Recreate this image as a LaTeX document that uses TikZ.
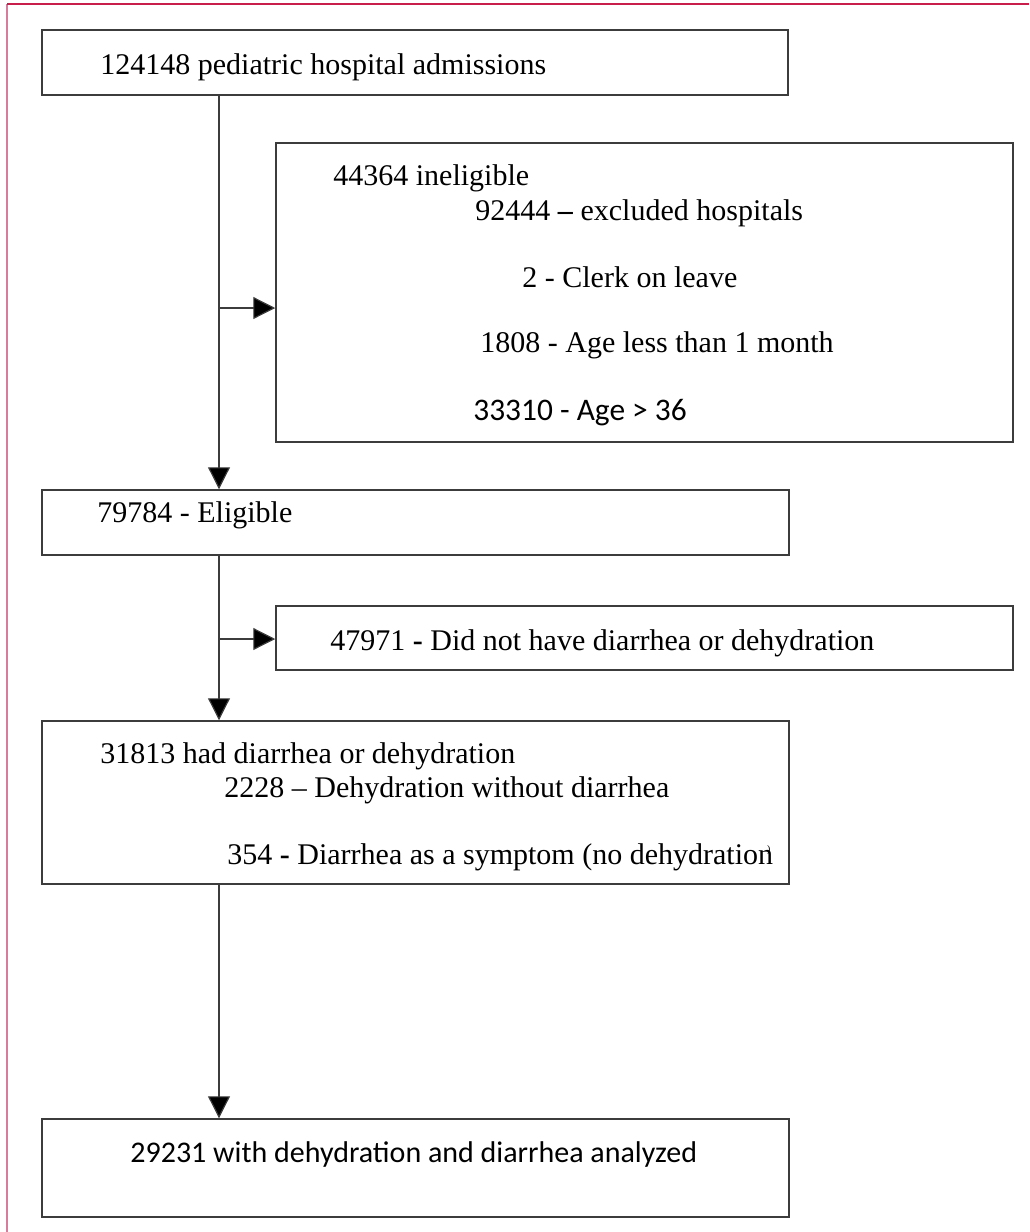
\documentclass[tikz,border=0pt]{standalone}
\usepackage{fontspec}
\setmainfont{Liberation Serif}
\newfontfamily\calibri{Carlito}
\usetikzlibrary{arrows.meta}
\definecolor{framered}{RGB}{200,30,75}
\definecolor{framepink}{RGB}{215,125,155}
\definecolor{boxgray}{RGB}{60,60,60}

\begin{document}
\begin{tikzpicture}[x=0.5pt,y=-0.5pt]
    \useasboundingbox (0,0) rectangle (1029,1232);
    \draw[framepink, line width=0.7pt] (7,1232) -- (7,4);
    \draw[framered, line width=0.7pt] (7,4) -- (1029,4);
    \begin{scope}[every node/.style={rectangle,draw=boxgray,line width=0.75pt,inner sep=0pt}]
        \node[minimum width=373pt, minimum height=32.5pt] (adm) at (415,62.5) {};
        \node[minimum width=368.5pt, minimum height=149.5pt] (inel) at (644.5,292.5) {};
        \node[minimum width=373.5pt, minimum height=32.5pt] (elig) at (415.5,522.5) {};
        \node[minimum width=368.5pt, minimum height=32pt] (nodia) at (644.5,638) {};
        \node[minimum width=373.5pt, minimum height=81.5pt] (diar) at (415.5,802.5) {};
        \node[minimum width=373.5pt, minimum height=49pt] (anal) at (415.5,1168) {};
    \end{scope}
    \begin{scope}[every node/.style={anchor=base west,inner sep=0pt,font=\fontsize{15}{18}\selectfont}]
        \node (tadm) at (100,74) {124148 pediatric hospital admissions};
        \node (tinel) at (333,185) {44364 ineligible};
        \node (thosp) at (475,220) {92444 \textbf{--} excluded hospitals};
        \node (tclerk) at (522,287) {2 - Clerk on leave};
        \node (tmonth) at (480,352) {1808 - Age less than 1 month};
        \node[font=\calibri\fontsize{15.7}{18}\selectfont] (tage) at (473,420) {33310 - Age > 36};
        \node (telig) at (97,522) {79784 - Eligible};
        \node (tnodia) at (330,650) {47971 \textbf{-} Did not have diarrhea or dehydration};
        \node (tdiar) at (100,763) {31813 had diarrhea or dehydration};
        \node (tdehy) at (224,797) {2228 -- Dehydration without diarrhea};
        \node (tsymp) at (227,864) {354 \textbf{-} Diarrhea as a symptom (no dehydration\kern-3pt\raisebox{6pt}{\tiny )}};
        \node[font=\calibri\fontsize{15}{18}\selectfont] (tanal) at (130,1162) {29231 with dehydration and diarrhea analyzed};
    \end{scope}
    \coordinate (j1) at (219,308);
    \coordinate (j2) at (219,639);
    \begin{scope}[every path/.style={draw=boxgray,line width=0.6pt,-{Triangle[length=11pt,width=11pt,fill=black]}}]
        \path (adm.south -| j1) -- (elig.north -| j1);
        \path (j1) -- (j1 -| inel.west);
        \path (elig.south -| j2) -- (diar.north -| j2);
        \path (j2) -- (j2 -| nodia.west);
        \path (diar.south -| j2) -- (anal.north -| j2);
    \end{scope}
\end{tikzpicture}
\end{document}
